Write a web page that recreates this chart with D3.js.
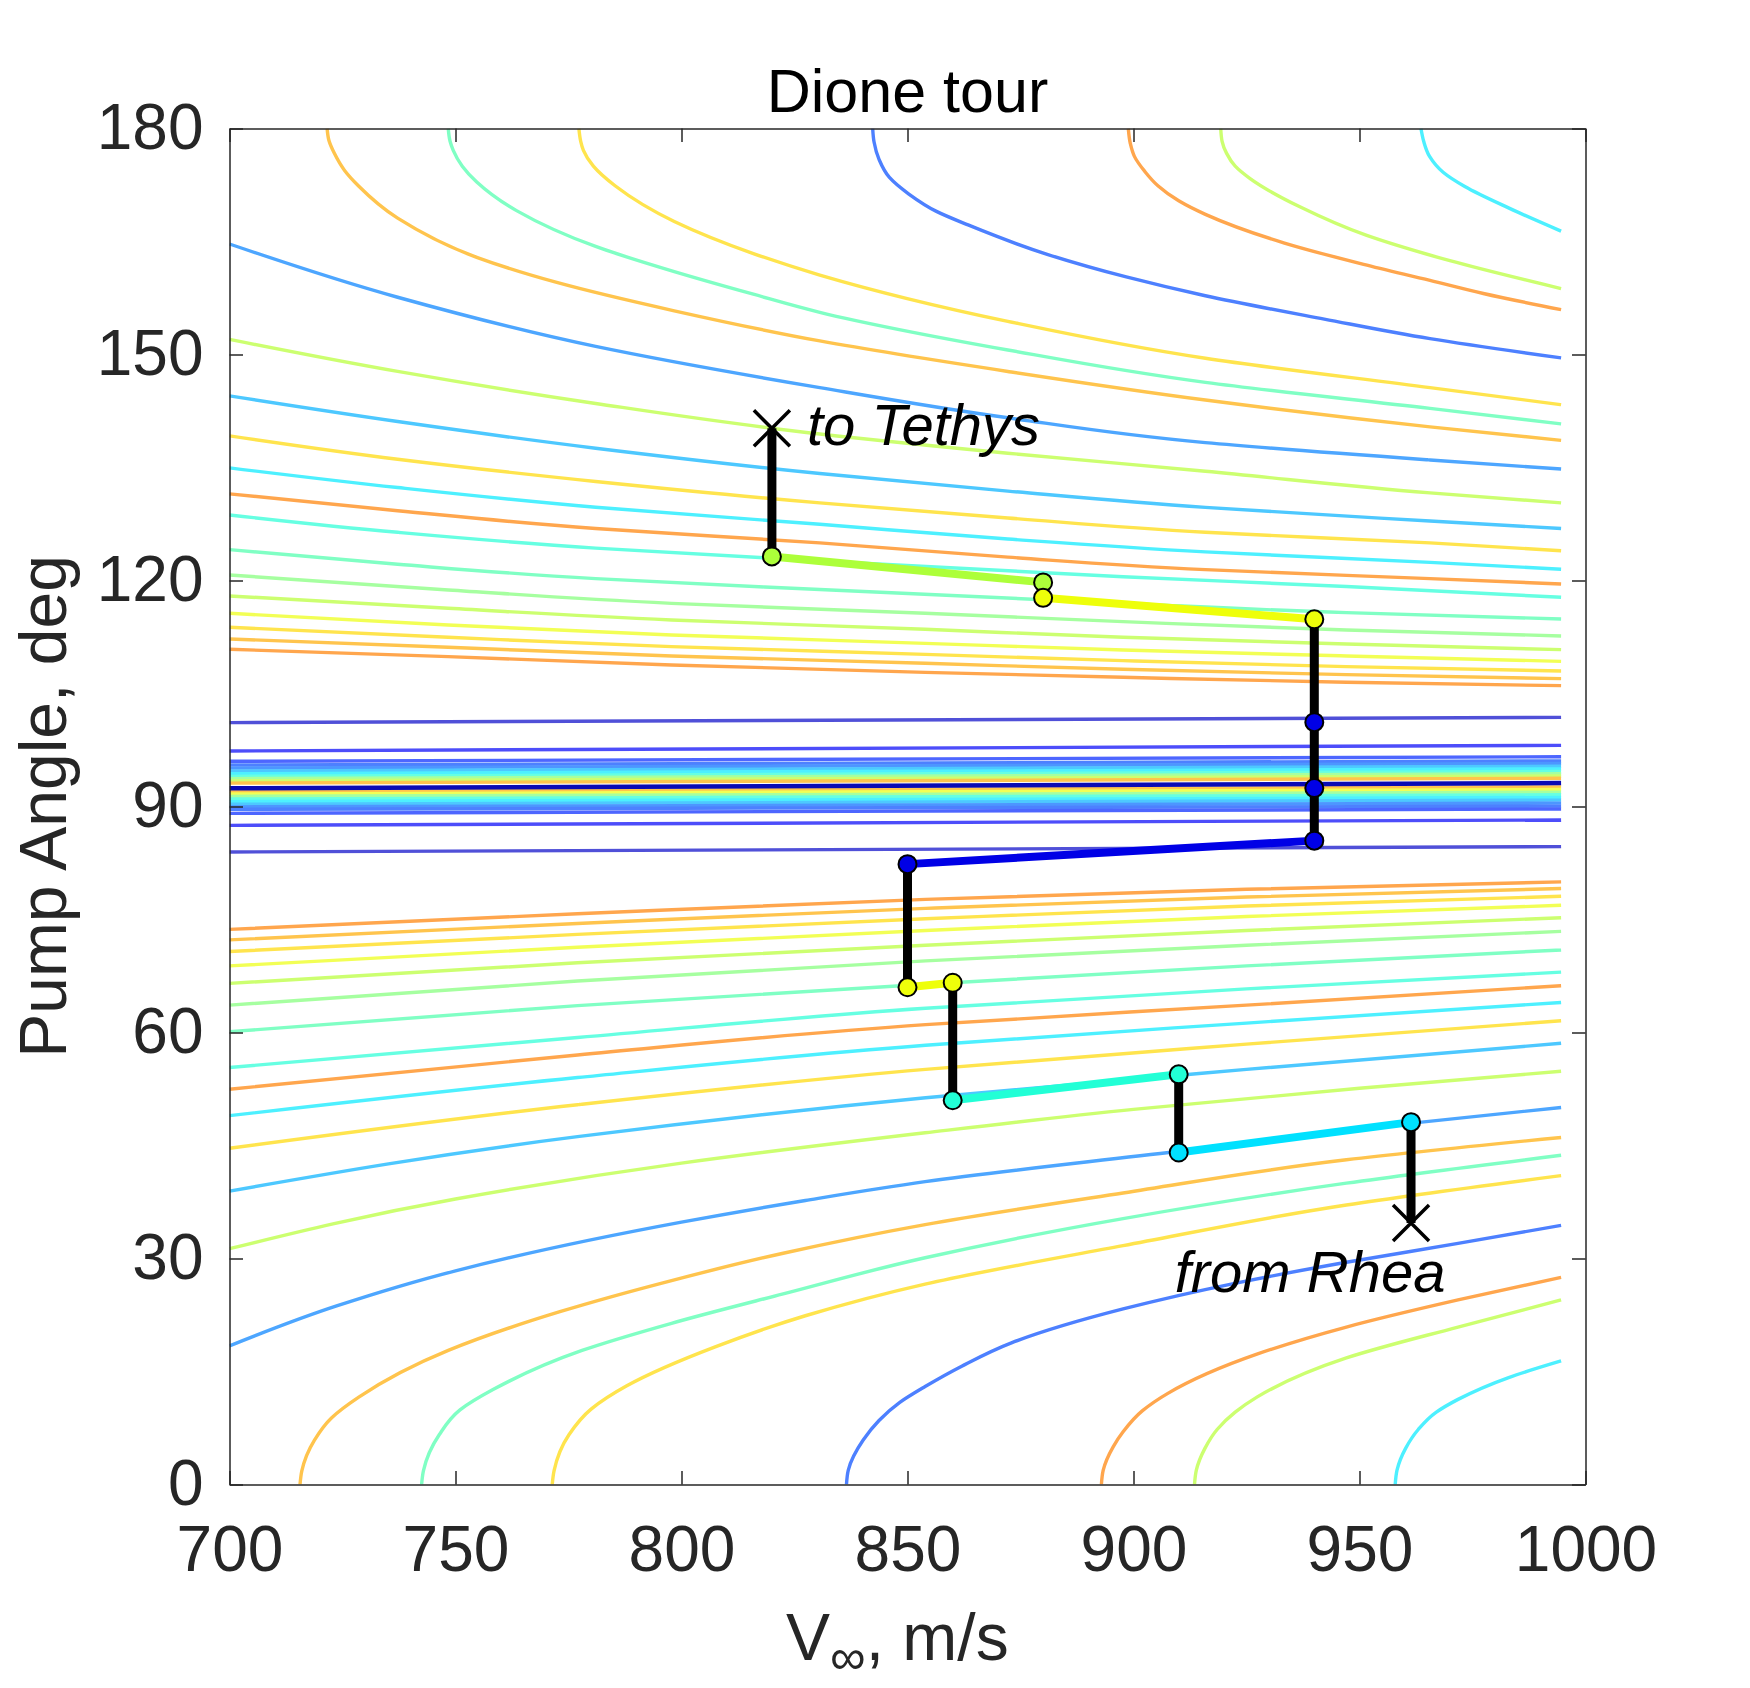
<!DOCTYPE html>
<html lang="en">
<head>
<meta charset="UTF-8">
<title>Dione tour</title>
<script src="https://d3js.org/d3.v7.min.js"></script>
<style>
    body { margin: 0; background: #fff; }
    svg { display: block; font-family: "Liberation Sans", Arial, Helvetica, sans-serif; }
    .axis text { fill: #262626; font-size: 64px; }
    .axis path, .axis line { stroke: #262626; stroke-width: 1.5; }
    .contour { fill: none; }
</style>
</head>
<body>
<svg id="chart" width="1750" height="1688"></svg>
<script>
// axis ticks
const vTicks = [700, 750, 800, 850, 900, 950, 1000];
const alphaTicks = [0, 30, 60, 90, 120, 150, 180];

// contours above 90 deg: [v_inf m/s, pump angle deg], level = colour class
const upperCurves = [
    { level: 15, pts: [[721.6,180],[722.0,178.4],[723.2,176.7],[725.5,174.4],[728.5,172.4],[737.2,168.1],[754.7,162.9],[772.2,159.6],[798.4,155.8],[830.6,151.8],[872.2,147.75],[915.9,143.96],[965.6,140.4],[994.6,138.6]] },
    { level: 10, pts: [[748.4,180],[748.8,178.3],[749.5,177.1],[751.5,175.0],[754.7,172.9],[763.5,169.1],[781,164.34],[798.4,161.0],[815.9,158.0],[830.6,155.6],[872.2,150.6],[915.9,146.3],[965.6,142.85],[994.6,140.78]] },
    { level: 14, pts: [[777.3,180],[777.7,178.3],[778.3,177.1],[780.5,175.0],[785.3,172.4],[798.4,167.66],[815.9,163.4],[830.6,160.55],[872.2,154.4],[915.9,149.5],[965.6,145.6],[994.6,143.34]] },
    { level: 4,  pts: [[842.3,180],[842.6,178.2],[843.7,175.9],[846.0,173.5],[850.3,171.3],[856.4,169.0],[863.4,167.2],[880.9,163.3],[898.4,160.3],[915.9,157.8],[942.2,154.7],[965.6,152.1],[994.6,149.55]] },
    { level: 16, pts: [[898.85,180],[899.3,178.0],[900.2,176.3],[902.5,174.3],[905.4,172.4],[910,170.4],[915.9,168.6],[933.4,164.8],[950.9,161.97],[965.6,159.84],[977.4,158.1],[994.6,155.95]] },
    { level: 12, pts: [[919.3,180],[919.6,178.3],[920.6,176.7],[922.5,175.0],[925.8,173.35],[936.8,169.6],[951.6,165.8],[970,162.45],[994.6,158.75]] },
    { level: 8,  pts: [[963.6,180],[964.2,178.3],[965.5,176.3],[968.5,174.2],[973.3,172.3],[983.2,169.4],[994.6,166.38]] },
    { level: 6,  pts: [[700,164.67],[737.2,157.6],[781,151.07],[830.6,145.6],[872.2,141.6],[915.9,138.3],[965.6,136.0],[994.6,134.8]] },
    { level: 12, pts: [[700,152.0],[737.2,147.75],[781,143.5],[830.6,139.45],[872.2,136.9],[915.9,134.5],[965.6,131.63],[994.6,130.3]] },
    { level: 7,  pts: [[700,144.5],[737.2,141.1],[781,137.56],[830.6,134.2],[872.2,131.87],[915.9,129.7],[965.6,127.9],[994.6,126.9]] },
    { level: 14, pts: [[700,139.2],[737.2,136.1],[781,133.15],[830.6,130.3],[872.2,128.3],[915.9,126.4],[965.6,125.0],[994.6,123.95]] },
    { level: 8,  pts: [[700,134.95],[737.2,132.34],[781,129.73],[830.6,127.46],[872.2,125.5],[915.9,123.8],[965.6,122.4],[994.6,121.5]] },
    { level: 16, pts: [[700,131.5],[737.2,129.26],[781,126.9],[830.6,125.0],[872.2,123.1],[915.9,121.44],[965.6,120.25],[994.6,119.54]] },
    { level: 9,  pts: [[700,128.7],[737.2,126.4],[781,124.3],[830.6,122.6],[897.7,120.5],[947.1,119.2],[994.6,117.77]] },
    { level: 10, pts: [[700,124.1],[737.2,122.15],[781,120.25],[830.6,118.8],[897.7,116.97],[947.1,115.73],[994.6,114.89]] },
    { level: 11, pts: [[700,120.73],[748.4,118.74],[797.8,116.97],[853.9,115.65],[897.7,114.54],[947.1,113.43],[994.6,112.64]] },
    { level: 12, pts: [[700,117.95],[748.4,116.31],[797.8,114.76],[853.9,113.52],[897.7,112.46],[947.1,111.57],[994.6,110.82]] },
    { level: 13, pts: [[700,115.65],[748.4,114.1],[797.8,112.77],[853.9,111.66],[897.7,110.78],[947.1,109.98],[994.6,109.27]] },
    { level: 14, pts: [[700,113.79],[748.4,112.46],[797.8,111.22],[853.9,110.2],[897.7,109.36],[947.1,108.57],[994.6,107.99]] },
    { level: 15, pts: [[700,112.24],[748.4,111.13],[797.8,109.98],[853.9,109.01],[897.7,108.21],[947.1,107.5],[994.6,106.97]] },
    { level: 16, pts: [[700,110.87],[748.4,109.89],[797.8,108.79],[853.9,107.81],[897.7,107.15],[947.1,106.49],[994.6,106.04]] }
];

// near-flat contours around 90 deg
const middleLines = [
    { level: 1,  pts: [[700,101.13],[994.6,101.83]] },
    { level: 2,  pts: [[700,97.37],[994.6,98.12]] },
    { level: 3,  pts: [[700,96.0],[994.6,96.6]] },
    { level: 4,  pts: [[700,95.5],[994.6,96.05]] },
    { level: 5,  pts: [[700,95.1],[994.6,95.7]] },
    { level: 7,  pts: [[700,94.7],[994.6,95.35]] },
    { level: 8,  pts: [[700,94.35],[994.6,95.0]] },
    { level: 9,  pts: [[700,94.0],[994.6,94.65]] },
    { level: 11, pts: [[700,93.7],[994.6,94.35]] },
    { level: 12, pts: [[700,93.4],[994.6,94.05]] },
    { level: 15, pts: [[700,93.1],[994.6,93.75]] },
    { level: 15, pts: [[700,91.97],[994.6,92.6]] },
    { level: 13, pts: [[700,91.65],[994.6,92.25]] },
    { level: 11, pts: [[700,91.35],[994.6,91.9]] },
    { level: 9,  pts: [[700,91.0],[994.6,91.55]] },
    { level: 8,  pts: [[700,90.65],[994.6,91.2]] },
    { level: 7,  pts: [[700,90.3],[994.6,90.85]] },
    { level: 5,  pts: [[700,89.95],[994.6,90.45]] },
    { level: 4,  pts: [[700,89.62],[994.6,90.05]] },
    { level: 3,  pts: [[700,89.09],[994.6,89.67]] },
    { level: 2,  pts: [[700,87.5],[994.6,88.21]] },
    { level: 1,  pts: [[700,83.96],[994.6,84.67]] },
    { level: 0,  pts: [[700,92.41],[994.6,93.12]] }
];

// contours below 90 deg
const lowerCurves = [
    { level: 16, pts: [[700,73.69],[777,75.76],[854,77.67],[925,79.01],[994.6,79.99]] },
    { level: 15, pts: [[700,72.3],[777,74.47],[854,76.48],[925,77.98],[994.6,79.11]] },
    { level: 14, pts: [[700,70.75],[777,73.02],[854,75.09],[925,76.79],[994.6,78.08]] },
    { level: 13, pts: [[700,68.84],[777,71.32],[854,73.54],[925,75.4],[994.6,76.89]] },
    { level: 12, pts: [[700,66.52],[777,69.25],[854,71.58],[925,73.54],[994.6,75.24]] },
    { level: 11, pts: [[700,63.63],[777,66.83],[854,69.51],[925,71.58],[994.6,73.43]] },
    { level: 10, pts: [[700,60.11],[777,63.57],[854,66.41],[925,68.84],[994.6,70.96]] },
    { level: 9,  pts: [[700,55.36],[777,59.34],[854,63.21],[925,65.79],[994.6,68.01]] },
    { level: 16, pts: [[700,52.47],[777,57.02],[854,61.04],[925,63.63],[994.6,66.21]] },
    { level: 8,  pts: [[700,48.96],[777,54.02],[854,58.31],[925,61.25],[994.6,63.99]] },
    { level: 14, pts: [[700,44.63],[777,50.41],[854,55.11],[925,58.46],[994.6,61.56]] },
    { level: 7,  pts: [[700,38.95],[777,46.17],[854,51.34],[925,55.1],[994.6,58.57]] },
    { level: 12, pts: [[700,31.3],[750,37.9],[800,42.66],[853.9,46.69],[900,49.8],[950,52.6],[994.6,54.85]] },
    { level: 6,  pts: [[700,18.4],[723.7,23.7],[750,28.36],[800,34.82],[827.4,37.7],[853.9,40.2],[909.5,44.2],[960.6,47.9],[994.6,50.05]] },
    { level: 15, pts: [[715.6,0],[716.0,1.8],[718.8,5.9],[722.5,8.8],[728.6,11.6],[748.4,17.8],[773.1,22.94],[797.8,27.07],[822.5,30.7],[853.9,34.5],[897.7,38.7],[947.1,43.1],[994.6,46.07]] },
    { level: 10, pts: [[742.5,0],[742.9,1.8],[746.4,6.6],[751,9.9],[758.3,12.6],[778,17.8],[797.8,21.4],[822.5,25.3],[853.9,30.1],[897.7,35.3],[947.1,40.0],[994.6,43.7]] },
    { level: 14, pts: [[771.4,0],[771.8,1.8],[775.1,6.6],[780,10.0],[787.9,13.1],[807.6,18.3],[827.4,22.4],[853.9,26.6],[897.7,31.7],[947.1,37.1],[994.6,41.0]] },
    { level: 4,  pts: [[836.5,0],[836.9,1.9],[840.2,5.9],[843.7,8.5],[848.3,10.9],[853.9,13.0],[862,15.7],[873,18.8],[897.7,23.3],[922.4,26.7],[947.1,29.5],[971.8,32.0],[994.6,34.4]] },
    { level: 16, pts: [[892.9,0],[893.3,1.9],[895.5,5.0],[897.7,7.0],[902,9.8],[907.6,12.1],[927.3,17.3],[947.1,20.9],[971.8,24.5],[994.6,27.5]] },
    { level: 12, pts: [[913.5,0],[913.9,1.9],[915.8,4.8],[918.5,7.3],[922.5,9.6],[927.3,11.6],[947.1,16.8],[971.8,20.9],[994.6,24.5]] },
    { level: 8,  pts: [[957.9,0],[958.3,1.9],[960.2,4.8],[963,7.3],[967,9.6],[971.8,11.3],[983,14.2],[994.6,16.4]] }
];

// tour: pump-angle changes (black), resonant legs (coloured), flyby nodes
const pumpSteps = [
    { v: 820,   from: 140.2, to: 123.2 },
    { v: 940,   from: 114.85, to: 85.47 },
    { v: 850,   from: 82.35, to: 66.0 },
    { v: 860,   from: 66.6, to: 51.0 },
    { v: 910,   from: 54.45, to: 44.07 },
    { v: 961.4, from: 48.1, to: 34.7 }
];
const tourLegs = [
    { tone: "green",  from: [820,123.2],  to: [880,119.75] },
    { tone: "yellow", from: [880,117.7],  to: [940,114.85] },
    { tone: "blue",   from: [850,82.35],  to: [940,85.47] },
    { tone: "yellow", from: [850,66.0],   to: [860,66.6] },
    { tone: "aqua",   from: [860,51.0],   to: [910,54.45] },
    { tone: "cyan",   from: [910,44.07],  to: [961.4,48.1] }
];
const flybyNodes = [
    { tone: "green",  at: [820,123.2] },
    { tone: "green",  at: [880,119.75] },
    { tone: "yellow", at: [880,117.7] },
    { tone: "yellow", at: [940,114.85] },
    { tone: "blue",   at: [940,101.2] },
    { tone: "blue",   at: [940,92.44] },
    { tone: "blue",   at: [940,85.47] },
    { tone: "blue",   at: [850,82.35] },
    { tone: "yellow", at: [850,66.0] },
    { tone: "yellow", at: [860,66.6] },
    { tone: "aqua",   at: [860,51.0] },
    { tone: "aqua",   at: [910,54.45] },
    { tone: "cyan",   at: [910,44.07] },
    { tone: "cyan",   at: [961.4,48.1] }
];
const endpointNames = ["to Tethys", "from Rhea"];
const endpointAt = [[820,140.2], [961.4,34.7]];

// ---------------------------------------------------------------
const plot = { left: 229.5, top: 128.5, size: 1356 };

const svg = d3.select("#chart");

const x = d3.scaleLinear().domain([700, 1000]).range([plot.left, plot.left + plot.size]);
const y = d3.scaleLinear().domain([0, 180]).range([plot.top + plot.size, plot.top]);

const levelColor = d3.scaleOrdinal()
    .domain(d3.range(17))
    .range(["#0a0ab4", "#5050d8", "#4d4dfa", "#4d66ff", "#4d80ff", "#4d96ff", "#4da6ff",
            "#4dc8ff", "#4df0ff", "#66ffe2", "#80ffc4", "#a6ffa0", "#ccff70", "#f2ff55",
            "#ffe44d", "#ffc44d", "#ffa64d"]);
const toneColor = d3.scaleOrdinal()
    .domain(["green", "yellow", "blue", "aqua", "cyan"])
    .range(["#adff3a", "#eeff0a", "#0000e6", "#22ffd6", "#00e1ff"]);

svg.append("defs").append("clipPath").attr("id", "plot-clip")
    .append("rect")
    .attr("x", plot.left).attr("y", plot.top)
    .attr("width", plot.size).attr("height", plot.size);

// contours (each one is monotone in pump angle)
const line = d3.line()
    .x(d => x(d[0]))
    .y(d => y(d[1]))
    .curve(d3.curveMonotoneY);

const contours = svg.append("g").attr("clip-path", "url(#plot-clip)");
contours.selectAll(".contour")
    .data(upperCurves.concat(lowerCurves, middleLines))
    .enter()
    .append("path")
    .attr("class", "contour")
    .attr("d", d => line(d.pts))
    .attr("stroke", d => levelColor(d.level))
    .attr("stroke-width", d => d.level === 0 ? 4.5 : 3.4);

// axes (ticks inward, box on all four sides)
const tick = 13.5;
svg.append("g").attr("class", "axis")
    .attr("transform", `translate(0,${plot.top + plot.size})`)
    .call(d3.axisBottom(x).tickValues(vTicks).tickFormat(d3.format("d"))
        .tickSize(-tick).tickSizeOuter(0).tickPadding(41));
svg.append("g").attr("class", "axis")
    .attr("transform", `translate(${plot.left},0)`)
    .call(d3.axisLeft(y).tickValues(alphaTicks).tickSize(-tick).tickSizeOuter(0).tickPadding(26));
svg.append("g").attr("class", "axis")
    .attr("transform", `translate(0,${plot.top})`)
    .call(d3.axisTop(x).tickValues(vTicks).tickSize(-tick).tickSizeOuter(0).tickFormat(""));
svg.append("g").attr("class", "axis")
    .attr("transform", `translate(${plot.left + plot.size},0)`)
    .call(d3.axisRight(y).tickValues(alphaTicks).tickSize(-tick).tickSizeOuter(0).tickFormat(""));
svg.selectAll(".axis .domain").attr("stroke-width", 1.6);

// tour
const tour = svg.append("g");
tour.selectAll(".pump")
    .data(pumpSteps)
    .enter()
    .append("line")
    .attr("x1", d => x(d.v)).attr("x2", d => x(d.v))
    .attr("y1", d => y(d.from)).attr("y2", d => y(d.to))
    .attr("stroke", "#000")
    .attr("stroke-width", 9);

tour.selectAll(".leg")
    .data(tourLegs)
    .enter()
    .append("line")
    .attr("x1", d => x(d.from[0])).attr("y1", d => y(d.from[1]))
    .attr("x2", d => x(d.to[0])).attr("y2", d => y(d.to[1]))
    .attr("stroke", d => toneColor(d.tone))
    .attr("stroke-width", 8);

tour.selectAll(".node")
    .data(flybyNodes)
    .enter()
    .append("circle")
    .attr("cx", d => x(d.at[0]))
    .attr("cy", d => y(d.at[1]))
    .attr("r", 9)
    .attr("fill", d => toneColor(d.tone))
    .attr("stroke", "#000")
    .attr("stroke-width", 2);

const s = 18;
tour.selectAll(".cross")
    .data(endpointAt)
    .enter()
    .append("path")
    .attr("d", d => {
        const cx = x(d[0]), cy = y(d[1]);
        return `M${cx - s},${cy - s}L${cx + s},${cy + s}M${cx - s},${cy + s}L${cx + s},${cy - s}`;
    })
    .attr("stroke", "#000")
    .attr("stroke-width", 3.5)
    .attr("fill", "none");

// endpoint labels
tour.append("text")
    .attr("x", x(endpointAt[0][0]) + 35)
    .attr("y", y(endpointAt[0][1]) + 17)
    .attr("font-size", 58)
    .attr("font-style", "italic")
    .text(endpointNames[0]);
tour.append("text")
    .attr("x", x(endpointAt[1][0]) - 101)
    .attr("y", y(endpointAt[1][1]) + 69)
    .attr("font-size", 58)
    .attr("font-style", "italic")
    .attr("text-anchor", "middle")
    .text(endpointNames[1]);

// title and axis labels
svg.append("text")
    .attr("x", plot.left + plot.size / 2)
    .attr("y", 112)
    .attr("text-anchor", "middle")
    .attr("font-size", 61)
    .style("fill", "#000")
    .text("Dione tour");

svg.append("text")
    .attr("transform", `translate(66,${plot.top + plot.size / 2}) rotate(-90)`)
    .attr("text-anchor", "middle")
    .attr("font-size", 66)
    .style("fill", "#262626")
    .text("Pump Angle, deg");

const xl = svg.append("text")
    .attr("x", 786)
    .attr("y", 1660)
    .attr("font-size", 66)
    .style("fill", "#262626");
xl.append("tspan").text("V");
xl.append("tspan").attr("font-size", 50).attr("dy", 14).text("\u221E");
xl.append("tspan").attr("dy", -14).text(", m/s");
</script>
</body>
</html>
